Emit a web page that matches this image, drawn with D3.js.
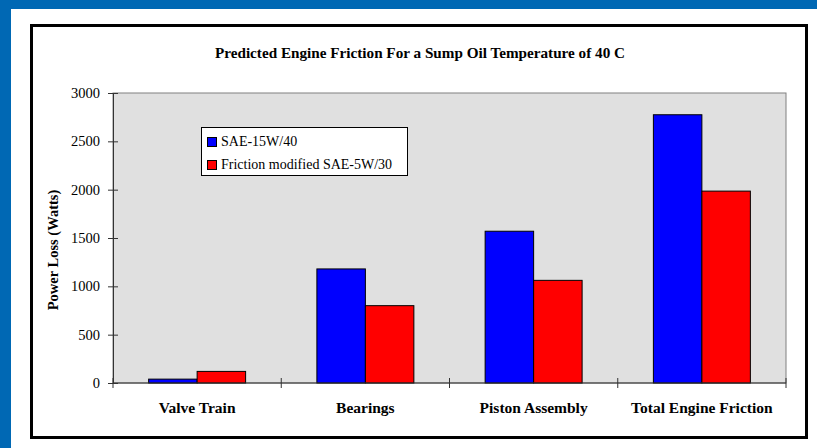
<!DOCTYPE html>
<html>
<head>
<meta charset="utf-8">
<script src="https://cdn.jsdelivr.net/npm/d3@7"></script>
<style>
html,body{margin:0;padding:0;background:#0068B4;}
svg{display:block;}
</style>
</head>
<body>
<svg id="chart" width="817" height="448"></svg>
<script>
const categories = ["Valve Train", "Bearings", "Piston Assembly", "Total Engine Friction"];
const seriesNames = ["SAE-15W/40", "Friction modified SAE-5W/30"];
const seriesColors = ["#0000FF", "#FF0000"];
const sae15w40 = [40, 1180, 1570, 2775];
const sae5w30 = [120, 800, 1062, 1985];
const yTicks = [0, 500, 1000, 1500, 2000, 2500, 3000];
const title = "Predicted Engine Friction For a Sump Oil Temperature of 40 C";
const yLabel = "Power Loss (Watts)";

const seriesValues = [sae15w40, sae5w30];
const data = categories.map((c, i) => ({cat: c, vals: seriesValues.map((s, k) => ({k, v: s[i]}))}));

const svg = d3.select("#chart");
const serif = "'Liberation Serif', 'Times New Roman', serif";

// panels
svg.append("rect").attr("x", 0).attr("y", 0).attr("width", 817).attr("height", 448).attr("fill", "#0068B4");
svg.append("rect").attr("x", 11).attr("y", 9).attr("width", 806).attr("height", 439).attr("fill", "#fff");
svg.append("rect").attr("x", 31.5).attr("y", 25.5).attr("width", 775).attr("height", 412)
  .attr("fill", "#fff").attr("stroke", "#000").attr("stroke-width", 3);

const L = 113, R = 786, T = 93, B = 383;
const x0 = d3.scaleBand().domain(categories).range([L, R]).padding(0);
const x1 = d3.scaleBand().domain(d3.range(seriesNames.length)).range([0, x0.bandwidth()]).paddingInner(0).paddingOuter(0.735);
const y = d3.scaleLinear().domain([0, 3000]).range([B, T]);

// plot area
svg.append("rect").attr("x", L).attr("y", T).attr("width", R - L).attr("height", B - T)
  .attr("fill", "#E0E0E0").attr("stroke", "#808080").attr("stroke-width", 1);

// bars
const g = svg.append("g");
g.selectAll("g.cat").data(data).join("g").attr("class", "cat")
  .attr("transform", d => `translate(${x0(d.cat)},0)`)
  .selectAll("rect").data(d => d.vals).join("rect")
  .attr("x", d => x1(d.k))
  .attr("y", d => y(d.v))
  .attr("width", x1.bandwidth())
  .attr("height", d => B - y(d.v))
  .attr("fill", d => seriesColors[d.k])
  .attr("stroke", "#000").attr("stroke-width", 1);

// y axis
const yAxis = d3.axisLeft(y).tickValues(yTicks).tickFormat(d3.format("d")).tickSizeInner(5).tickSizeOuter(0).tickPadding(8);
const ya = svg.append("g").attr("transform", `translate(${L},0)`).call(yAxis);
ya.select(".domain").attr("stroke", "#333");
ya.selectAll(".tick line").attr("x2", 5).attr("x1", -5).attr("stroke", "#333");
ya.selectAll(".tick text").attr("font-family", serif).attr("font-size", 14.5).attr("fill", "#000");

// x axis
const xa = svg.append("g").attr("transform", `translate(0,${B})`);
xa.append("line").attr("x1", L).attr("x2", R).attr("y1", 0).attr("y2", 0).attr("stroke", "#333");
const bounds = categories.map(c => x0(c)).concat([R]);
xa.selectAll("line.t").data(bounds).join("line").attr("class", "t")
  .attr("x1", d => d).attr("x2", d => d).attr("y1", -5).attr("y2", 5).attr("stroke", "#333");
xa.selectAll("text").data(categories).join("text")
  .attr("x", d => x0(d) + x0.bandwidth() / 2).attr("y", 30)
  .attr("text-anchor", "middle").attr("font-family", serif).attr("font-weight", "bold")
  .attr("font-size", 15.5).text(d => d);

// title
svg.append("text").attr("x", 420).attr("y", 58).attr("text-anchor", "middle")
  .attr("font-family", serif).attr("font-weight", "bold").attr("font-size", 15.2).text(title);

// y label
svg.append("text").attr("transform", "translate(58,250) rotate(-90)").attr("text-anchor", "middle")
  .attr("font-family", serif).attr("font-weight", "bold").attr("font-size", 14.5).text(yLabel);

// legend
const lg = svg.append("g");
lg.append("rect").attr("x", 201.5).attr("y", 127.5).attr("width", 206).attr("height", 48)
  .attr("fill", "#fff").attr("stroke", "#000").attr("stroke-width", 1);
seriesNames.forEach((n, i) => {
  lg.append("rect").attr("x", 207.5).attr("y", 137.5 + i * 23).attr("width", 9).attr("height", 9)
    .attr("fill", seriesColors[i]).attr("stroke", "#000");
  lg.append("text").attr("x", 221).attr("y", 146 + i * 23)
    .attr("font-family", serif).attr("font-size", 14).text(n);
});
</script>
</body>
</html>
